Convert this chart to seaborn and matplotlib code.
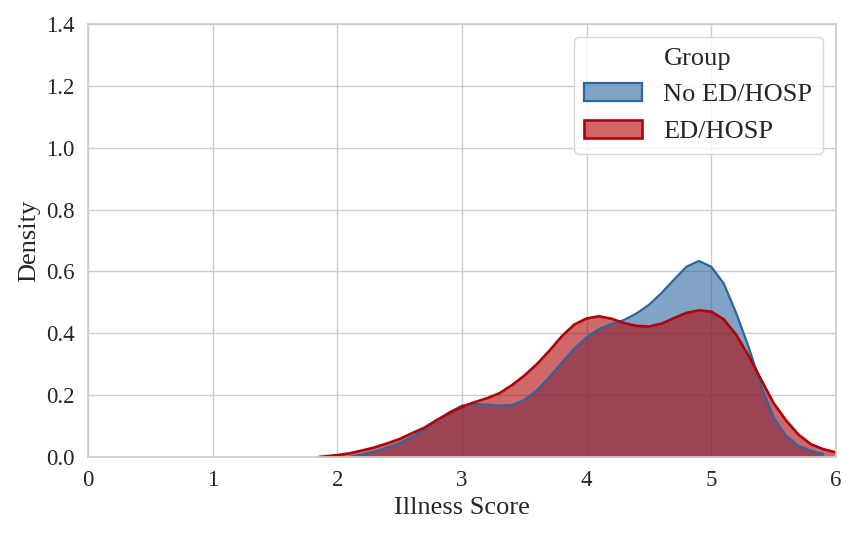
import numpy as np
import matplotlib
matplotlib.use('Agg')
import matplotlib.pyplot as plt
from matplotlib.patches import Patch
import seaborn as sns

# density curves (x = illness score, y = density)
no_ed_x = [2.1, 2.2, 2.3, 2.4, 2.5, 2.6, 2.7, 2.8, 2.9, 3.0, 3.1, 3.2, 3.3, 3.4,
           3.5, 3.6, 3.7, 3.8, 3.9, 4.0, 4.1, 4.2, 4.3, 4.4, 4.5, 4.6, 4.7, 4.8,
           4.9, 5.0, 5.1, 5.2, 5.3, 5.4, 5.5, 5.6, 5.7, 5.8, 5.9]
no_ed_y = [0.0, 0.008, 0.018, 0.030, 0.045, 0.065, 0.090, 0.118, 0.145, 0.166,
           0.172, 0.169, 0.166, 0.168, 0.184, 0.215, 0.258, 0.305, 0.350, 0.387,
           0.414, 0.430, 0.443, 0.464, 0.492, 0.530, 0.573, 0.615, 0.634, 0.615,
           0.561, 0.465, 0.355, 0.230, 0.128, 0.068, 0.036, 0.020, 0.010]

ed_x = [1.85, 1.9, 2.0, 2.1, 2.2, 2.3, 2.4, 2.5, 2.6, 2.7, 2.8, 2.9, 3.0, 3.1,
        3.2, 3.3, 3.4, 3.5, 3.6, 3.7, 3.8, 3.9, 4.0, 4.1, 4.2, 4.3, 4.4, 4.5,
        4.6, 4.7, 4.8, 4.9, 5.0, 5.1, 5.2, 5.3, 5.4, 5.5, 5.6, 5.7, 5.8, 5.9, 6.0]
ed_y = [0.0, 0.002, 0.006, 0.012, 0.021, 0.031, 0.044, 0.058, 0.077, 0.095,
        0.120, 0.142, 0.162, 0.177, 0.190, 0.206, 0.232, 0.263, 0.300, 0.343,
        0.390, 0.428, 0.448, 0.455, 0.447, 0.433, 0.424, 0.422, 0.431, 0.449,
        0.466, 0.474, 0.470, 0.445, 0.395, 0.327, 0.250, 0.174, 0.118, 0.072,
        0.041, 0.025, 0.015]

groups = ['No ED/HOSP', 'ED/HOSP']
colors = {'No ED/HOSP': '#2b66a0', 'ED/HOSP': '#b00308'}
widths = {'No ED/HOSP': 1.6, 'ED/HOSP': 1.9}

sns.set_theme(style='whitegrid')
plt.rcParams['font.family'] = ['Liberation Serif', 'DejaVu Serif']

fig, ax = plt.subplots(figsize=(8.59, 5.37), dpi=100)
fig.subplots_adjust(left=0.1024, right=0.9732, top=0.9553, bottom=0.149)

curves = {'No ED/HOSP': (no_ed_x, no_ed_y), 'ED/HOSP': (ed_x, ed_y)}
for name in groups:
    x, y = curves[name]
    ax.fill_between(x, y, color=colors[name], alpha=0.6, linewidth=0)
    sns.lineplot(x=x, y=y, color=colors[name], linewidth=widths[name], ax=ax)

ax.set_xlim(0, 6)
ax.set_ylim(0, 1.4)
ax.set_yticks(np.arange(0, 1.41, 0.2))
ax.set_xlabel('Illness Score', fontsize=19)
ax.set_ylabel('Density', fontsize=19)
ax.tick_params(labelsize=16.5)

# legend patches: translucent face, opaque edge
handles = [Patch(facecolor=matplotlib.colors.to_rgba(colors[g], 0.6),
                 edgecolor=colors[g], linewidth=widths[g])
           for g in groups]
ax.legend(handles, groups, title='Group', loc='upper right',
          fontsize=19, title_fontsize=19, handlelength=2.2)

plt.savefig('out.png', dpi=100)
